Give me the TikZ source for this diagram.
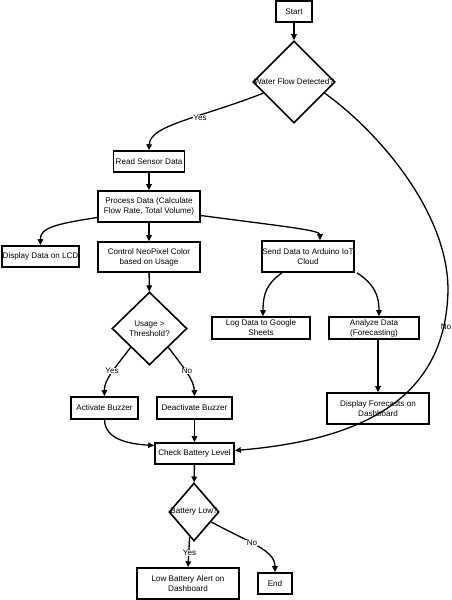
\documentclass[tikz,border=0pt]{standalone}
\usepackage{fontspec}
\setmainfont{Liberation Sans}
\usetikzlibrary{shapes.geometric,arrows.meta,calc}
\begin{document}
\begin{tikzpicture}[x=1pt,y=-1pt,
  procbox/.style={draw,line width=1.6pt,rectangle,inner sep=0pt,align=center,font=\fontsize{8.1}{10}\selectfont},
  dia/.style={draw,line width=1.6pt,diamond,inner sep=0pt,aspect=1},
  txt/.style={inner sep=0pt,align=center,font=\fontsize{8.1}{10}\selectfont},
  lbl/.style={inner sep=0.6pt,fill=white,font=\fontsize{8.1}{10}\selectfont},
  arr/.style={line width=1.3pt,-{Triangle[length=6pt,width=5.5pt]}}]
\useasboundingbox (0,0) rectangle (451,600);
% boxes
\node[procbox,minimum width=36pt,minimum height=21pt] (start) at (294,11.5) {Start};
\node[dia,minimum width=82pt,minimum height=82pt] (wf) at (294,82) {};
\node[txt] (wft) at (294,82) {Water Flow Detected?};
\node[procbox,minimum width=71pt,minimum height=21pt] (read) at (149,161.5) {Read Sensor Data};
\node[procbox,minimum width=102pt,minimum height=31pt] (proc) at (149,206.5) {Process Data (Calculate\\Flow Rate, Total Volume)};
\node[procbox,minimum width=77pt,minimum height=21pt] (lcd) at (40.5,256.5) {Display Data on LCD};
\node[procbox,minimum width=102pt,minimum height=30pt] (ctrl) at (149,257) {Control NeoPixel Color\\based on Usage};
\node[procbox,minimum width=78pt,minimum height=31pt] (send) at (308,256.5) {Send Data to Arduino IoT\\Cloud};
\node[procbox,minimum width=98pt,minimum height=22pt] (log) at (261,328) {Log Data to Google\\Sheets};
\node[procbox,minimum width=90pt,minimum height=22pt] (ana) at (374,328) {Analyze Data\\(Forecasting)};
\node[procbox,minimum width=102pt,minimum height=31pt] (disp) at (378,408.5) {Display Forecasts on\\Dashboard};
\node[dia,minimum width=75pt,minimum height=73pt] (usage) at (149.5,328.5) {};
\node[txt] (usaget) at (149.5,328.5) {Usage >\\Threshold?};
\node[procbox,minimum width=67pt,minimum height=22pt] (act) at (104.5,408) {Activate Buzzer};
\node[procbox,minimum width=75pt,minimum height=22pt] (deact) at (194.5,408) {Deactivate Buzzer};
\node[procbox,minimum width=79pt,minimum height=21pt] (check) at (194.5,453.5) {Check Battery Level};
\node[dia,minimum width=50pt,minimum height=58pt] (batt) at (194,512) {};
\node[txt] (battt) at (194,512) {Battery Low?};
\node[procbox,minimum width=102pt,minimum height=31pt] (alert) at (188,583.5) {Low Battery Alert on\\Dashboard};
\node[procbox,minimum width=34pt,minimum height=21pt] (end) at (275,583.5) {End};
% connectors
\draw[arr] (start) -- (wf);
\draw[arr] (wf.200) .. controls (200,118) and (150,125) .. (read.north);
\node[lbl] (yes1) at (200,118) {Yes};
\draw[arr] (wf.-20) .. controls (375,129) and (448,210) .. (448,290)
   .. controls (446,400) and (360,440) .. ($(check.east)+(0,-3)$);
\node[txt] (no1) at (446,327) {No};
\draw[arr] (read) -- (proc);
\draw[arr] ($(proc.west)+(0,11)$) .. controls (55,224) and (40,228) .. (lcd.north);
\draw[arr] (proc) -- (ctrl);
\draw[arr] ($(proc.east)+(0,9)$) .. controls (280,226) and (320,230) .. ($(send.north)+(12,0)$);
\draw[arr] ($(send.south)+(-26,0)$) .. controls (266,284) and (263,295) .. ($(log.north)+(2,0)$);
\draw[arr] ($(send.south)+(49,0)$) .. controls (374,284) and (379,295) .. ($(ana.north)+(5,0)$);
\draw[arr] ($(ana.south)+(4,0)$) -- ($(disp.north)+(0,0)$);
\draw[arr] (ctrl) -- (usage);
\draw[arr] (usage.225) .. controls (115,368) and (104,380) .. (act.north);
\node[lbl] (yes2) at (112,371) {Yes};
\draw[arr] (usage.-45) .. controls (184,368) and (194,380) .. (deact.north);
\node[lbl] (no2) at (187,371) {No};
\draw[arr] (act.south) .. controls (105,440) and (130,444) .. ($(check.west)+(0,-8)$);
\draw[arr] (deact) -- (check);
\draw[arr] (check) -- (batt);
\draw[arr] (batt.-100) -- ($(alert.north)+(0,0)$);
\node[lbl] (yes3) at (189.5,553) {Yes};
\draw[arr] (batt.-30) .. controls (250,543) and (275,550) .. (end.north);
\node[lbl] (no3) at (252,543) {No};
\end{tikzpicture}
\end{document}
